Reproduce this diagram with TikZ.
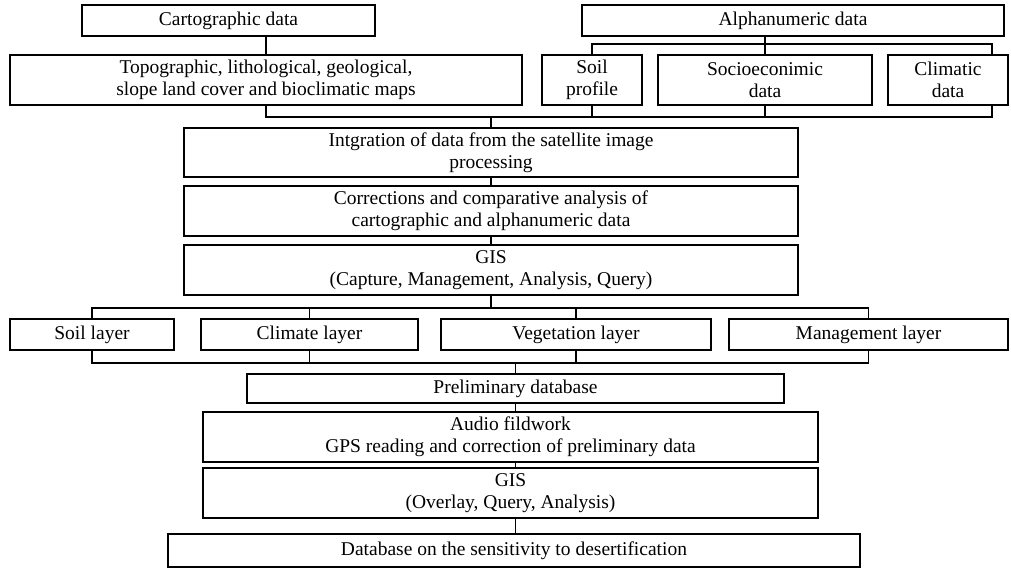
\documentclass[tikz,border=0pt]{standalone}
\usepackage{fontspec}
\setmainfont{Liberation Serif}
\tikzset{
  bx/.style={draw, line width=1.9pt, inner sep=0pt, align=center,
    font=\fontsize{19.5}{22}\selectfont},
  ln/.style={line width=1.4pt},
  lnthick/.style={line width=2.6pt}
}
\newcommand\bxnode[6]{\node[bx,minimum width={#4-#2},minimum height={#5-#3}] (#1) at ({(#2+#4)/2},{(#3+#5)/2}) {#6};}
\begin{document}
\begin{tikzpicture}[x=1pt,y=-1pt]
\useasboundingbox (0,0) rectangle (1011,569);
% row 1
\bxnode{carto}{82}{5}{375}{36}{Cartographic data}
\bxnode{alpha}{582}{5}{1004}{36}{Alphanumeric data}
% row 2
\bxnode{topo}{10}{55}{522}{105}{Topographic, lithological, geological,\\slope land cover and bioclimatic maps}
\bxnode{sp}{542}{55}{642}{105}{Soil\\profile}
\bxnode{so}{658}{55}{872}{105}{Socioeconimic\\data}
\bxnode{cl}{888}{55}{1008}{105}{Climatic\\data}
% middle chain
\bxnode{integ}{184}{128}{798}{177}{Intgration of data from the satellite image\\processing}
\bxnode{corr}{184}{186}{798}{236}{Corrections and comparative analysis of\\cartographic and alphanumeric data}
\bxnode{gis}{184}{245}{798}{295}{GIS\\(Capture, Management, Analysis, Query)}
% layers
\bxnode{soil}{10}{319}{174}{350}{Soil layer}
\bxnode{clim}{201}{319}{418}{350}{Climate layer}
\bxnode{veg}{441}{319}{711}{350}{Vegetation layer}
\bxnode{mgmt}{729}{319}{1008}{350}{Management layer}
% lower chain
\bxnode{prelim}{247}{374}{784}{403}{Preliminary database}
\bxnode{audio}{203}{412}{818}{462}{Audio fildwork\\GPS reading and correction of preliminary data}
\bxnode{gistwo}{203}{468}{818}{518}{GIS\\(Overlay, Query, Analysis)}
\bxnode{db}{168}{534}{860}{567}{Database on the sensitivity to desertification}
% coordinates
\coordinate (ay) at (0,44);
\coordinate (by) at (0,117);
\coordinate (clt) at ([xshift=44pt]cl.north);
\coordinate (clb) at ([xshift=44pt]cl.south);
\coordinate (tkA) at (618,117);
\coordinate (ly) at (0,308);
\coordinate (lb) at (0,363);
\coordinate (tkB) at (255,308);
\coordinate (tkC) at (208,363);
% connectors top
\draw[ln] (topo.north) -- (topo.north |- carto.south);
\draw[ln] (alpha.south -| so.north) -- (so.north);
\draw[ln] (sp.north) |- (ay -| clt) -- (clt);
\draw[lnthick] (topo.south) |- (tkA);
\draw[ln] (sp.south) |- (by -| clb) -- (clb);
\draw[ln] (so.south) -- (so.south |- by);
\draw[ln] (integ.north) -- (integ.north |- by);
\draw[ln] (integ.south) -- (corr.north);
\draw[ln] (corr.south) -- (gis.north);
% layers connectors
\draw[ln] (gis.south) -- (gis.south |- ly);
\draw[lnthick] (soil.north) |- (tkB);
\draw[ln] (soil.north) |- (ly -| mgmt.north) -- (mgmt.north);
\draw[ln] (clim.north) -- (clim.north |- ly);
\draw[ln] (veg.north) -- (veg.north |- ly);
\draw[lnthick] (soil.south) |- (tkC);
\draw[ln] (soil.south) |- (lb -| mgmt.south) -- (mgmt.south);
\draw[ln] (clim.south) -- (clim.south |- lb);
\draw[ln] (veg.south) -- (veg.south |- lb);
\draw[ln] (prelim.north) -- (prelim.north |- lb);
% lower chain connectors
\draw[ln] (prelim.south) -- (prelim.south |- audio.north);
\draw[ln] (audio.south -| prelim.south) -- (gistwo.north -| prelim.south);
\draw[ln] (gistwo.south -| prelim.south) -- (db.north -| prelim.south);
\end{tikzpicture}
\end{document}
